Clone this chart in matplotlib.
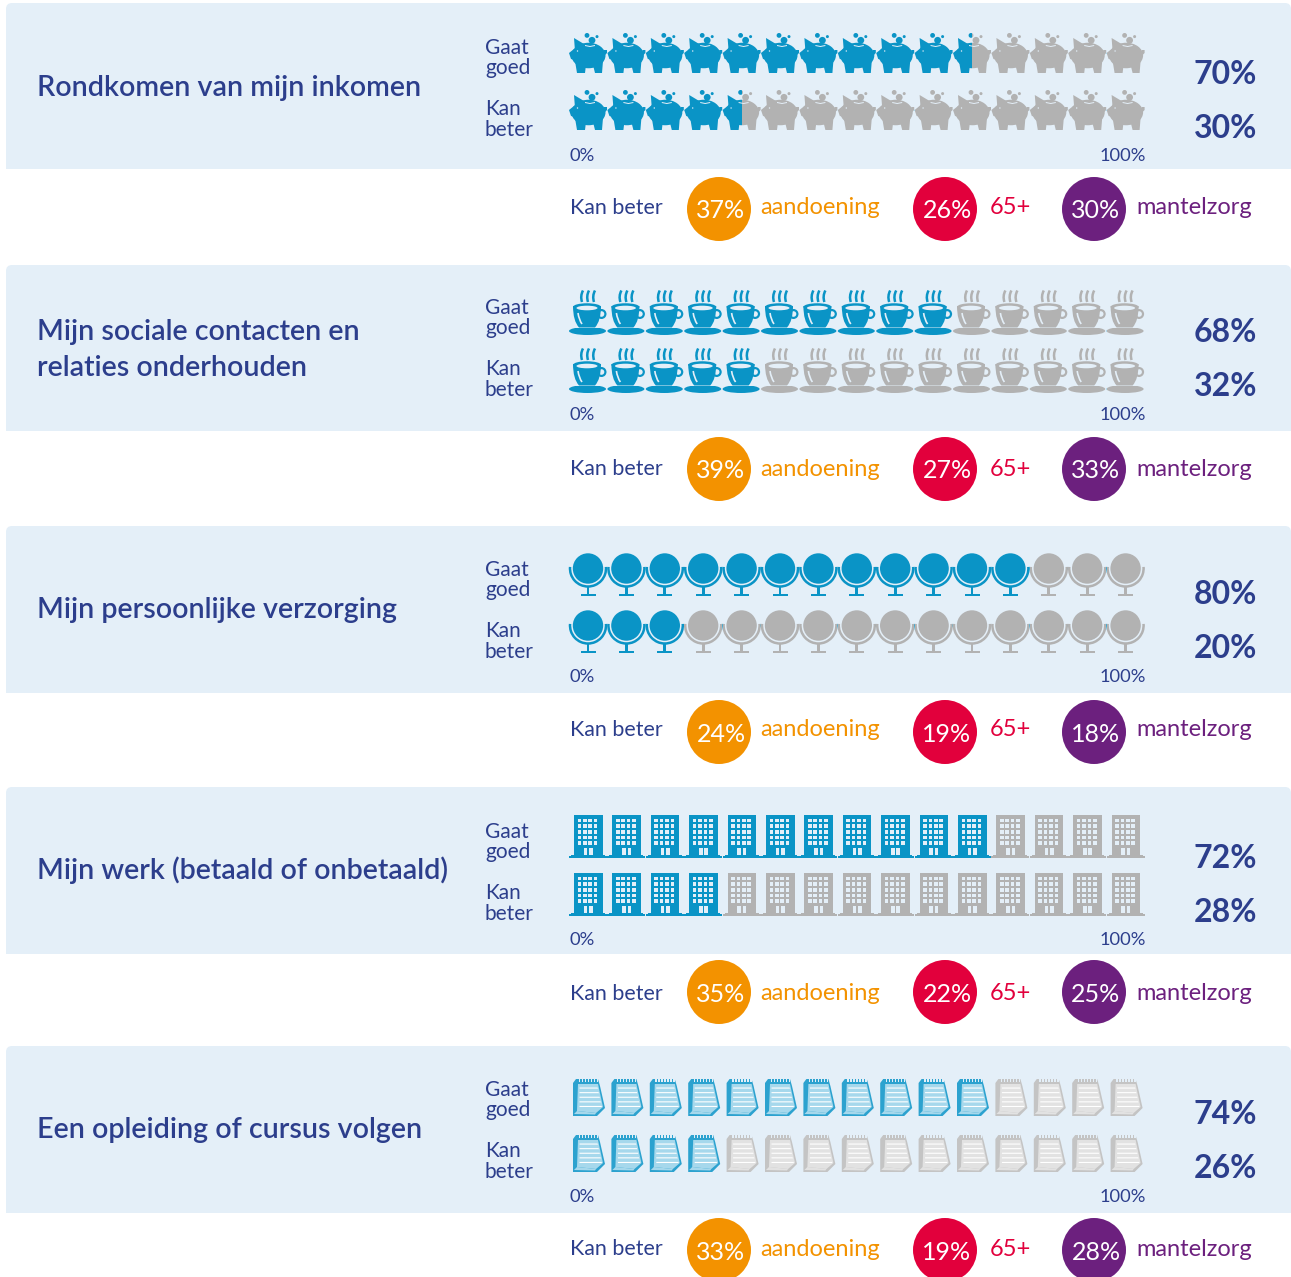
import matplotlib
matplotlib.use('Agg')
import matplotlib.pyplot as plt
import numpy as np
from matplotlib.patches import Circle, Ellipse, Polygon, Rectangle, FancyBboxPatch, Arc, PathPatch
from matplotlib.path import Path
from matplotlib.transforms import Affine2D

plt.rcParams['font.family'] = ['Lato', 'DejaVu Sans']

titles = [['Rondkomen van mijn inkomen'],
          ['Mijn sociale contacten en', 'relaties onderhouden'],
          ['Mijn persoonlijke verzorging'],
          ['Mijn werk (betaald of onbetaald)'],
          ['Een opleiding of cursus volgen']]
gaat_goed = [70, 68, 80, 72, 74]
kan_beter = [30, 32, 20, 28, 26]
gaat_icons = [10.5, 10, 12, 11, 11]
kan_icons = [4.5, 5, 3, 4, 4]
aandoening = [37, 39, 24, 35, 33]
age65 = [26, 27, 19, 22, 19]
mantelzorg = [30, 33, 18, 25, 28]
icon_names = ['pig', 'cup', 'globe', 'building', 'note']

BLUE = '#0A94C6'
GRAY = '#B2B2B2'
PANEL = '#E4EFF8'
NAVY = '#2C3E8C'
ORANGE = '#F39200'
RED = '#E2003C'
PURPLE = '#6C207E'

panel_tops = [3, 265, 526, 787, 1046]
panel_bottoms = [169, 431, 693, 954, 1213]
icon_rows = {'pig': (30, 87), 'cup': (25, 83), 'globe': (27, 84), 'building': (28, 86), 'note': (32, 88)}
pitch = 38.4
x_start = 569

# the panels in the picture are not spaced quite evenly
title_shift = [2, 2, 1, 0, 1]
label_shift = [1, -1, 0, 1, 0]
axis_shift = [2, -1, 0, 2, 0]
pct_shift = [3, 0, 1, 4, 1]
row_shift = [1, 0, 0, 3, -1]
circle_shift = [0, -2, 0, -1, -2]

fig = plt.figure(figsize=(12.91, 12.77), dpi=100)
ax = fig.add_axes([0, 0, 1, 1])
ax.set_xlim(0, 1291)
ax.set_ylim(1277, 0)
ax.axis('off')


def pig(c, light):
    parts = [Ellipse((19.5, 22.5), 34, 25.5, color=c, lw=0),
             Polygon([[5, 5], [15, 11], [6, 18]], color=c, lw=0),
             Polygon([[0, 20], [5, 16], [6, 27], [2, 26]], color=c, lw=0),
             Polygon([[6, 28], [17, 32], [16, 40], [8, 40]], color=c, lw=0),
             Polygon([[24, 32], [34, 28], [33, 40], [26, 40]], color=c, lw=0),
             Polygon([[35, 17], [38, 17], [38, 20], [35, 23]], color=c, lw=0),
             Circle((18, 2.4), 2.4, color=c, lw=0),
             Circle((23, 7.3), 3.4, color=c, lw=0),
             Circle((28, 3.6), 1.5, color=c, lw=0),
             Polygon([[16, 12], [21, 13], [26, 12], [26, 13], [21, 14], [16, 13]], color=light, lw=0),
             Circle((8.5, 18), 0.7, color=light, lw=0)]
    return parts


def cup(c, light):
    body = Path([(4, 16), (4, 31), (10, 37.5), (18, 37.5), (26, 37.5), (32, 31), (32, 16), (4, 16)],
                [Path.MOVETO, Path.CURVE3, Path.CURVE3, Path.CURVE3, Path.CURVE3, Path.CURVE3, Path.LINETO, Path.CLOSEPOLY])
    parts = [Ellipse((18.5, 41), 37, 8, color=c, lw=0),
             Rectangle((3, 36.6), 31, 0.9, color=light, lw=0),
             Circle((32.5, 24), 5, color=c, lw=0),
             Circle((32.5, 24), 2.8, color=light, lw=0),
             PathPatch(body, color=c, lw=0),
             Ellipse((18, 17), 28, 7.5, color=c, lw=0),
             Ellipse((18, 18), 21, 4.6, color=light, lw=0),
             PathPatch(Path([(9, 23), (10, 30), (13, 34)], [Path.MOVETO, Path.CURVE3, Path.CURVE3]),
                       fill=False, ec=light, lw=1.2)]
    for dx in [13, 19, 25]:
        parts.append(PathPatch(Path([(dx, 12), (dx - 2, 6), (dx + 1, 0.5)], [Path.MOVETO, Path.CURVE3, Path.CURVE3]),
                               fill=False, ec=c, lw=1.8))
    return parts


def globe(c, light):
    return [Circle((19, 15.5), 15.2, color=c, lw=0),
            Arc((19, 15.5), 36, 36, theta1=-5, theta2=185, ec=c, lw=1.8),
            Rectangle((17.6, 33), 2.8, 9, color=c, lw=0),
            Rectangle((11.5, 41), 15, 2.2, color=c, lw=0)]


def building(c, light):
    parts = [Rectangle((5, 0), 28.5, 40, color=c, lw=0),
             Rectangle((2, 39.5), 34, 2, color=c, lw=0),
             Rectangle((0, 41.2), 38, 1.8, color=c, lw=0)]
    for r in range(5):
        for k in range(4):
            parts.append(Rectangle((8.6 + k * 5.4, 3.5 + r * 5.7), 3.6, 3.6, color=light, lw=0))
    parts.append(Rectangle((14.8, 33), 3.6, 7, color=light, lw=0))
    parts.append(Rectangle((20.2, 33), 3.6, 7, color=light, lw=0))
    return parts


def note(c, light):
    page = '#A6D8EC' if c == BLUE else '#E2E2E2'
    side = '#2CA2CF' if c == BLUE else '#C4C4C4'
    parts = [Polygon([[4, 5], [7, 1], [29, 1], [31, 8], [36, 30], [28, 38], [4, 38]], color=side, lw=0),
             Polygon([[9, 6], [29, 6], [34, 29], [27, 35], [8, 33]], color=page, lw=0),
             Polygon([[5, 36], [8, 33], [27, 35], [26, 36.5]], color=page, lw=0)]
    for r in range(5):
        yy = 9.5 + r * 4.6
        parts.append(Polygon([[10.5, yy], [28.5 + r, yy], [29 + r, yy + 1.1], [10.5, yy + 1.1]], color='white', lw=0))
    for k in range(7):
        parts.append(Rectangle((9.5 + k * 3, 0), 1.5, 3.5, color=light, lw=0))
    return parts


icon_funcs = {'pig': pig, 'cup': cup, 'globe': globe, 'building': building, 'note': note}


def draw_icon(name, x0, y0, frac):
    tr = Affine2D().translate(x0, y0) + ax.transData
    for c, a, b in [(BLUE, -2, frac * pitch), (GRAY, frac * pitch, pitch + 2)]:
        if b <= a:
            continue
        clip = Rectangle((x0 + a, y0 - 3), b - a, 52, transform=ax.transData)
        for p in icon_funcs[name](c, PANEL):
            p.set_transform(tr)
            ax.add_patch(p)
            p.set_clip_path(clip)


for i, top in enumerate(panel_tops):
    bottom = panel_bottoms[i]
    ax.add_patch(FancyBboxPatch((8, top + 2), 1281, bottom - top + 8, boxstyle='round,pad=2,rounding_size=6',
                                fc=PANEL, ec='none', zorder=0))
    ax.add_patch(Rectangle((6, bottom), 1285, 14, fc='white', ec='none', zorder=0))

    # title
    ttl = titles[i]
    ts = title_shift[i]
    if len(ttl) == 1:
        ax.text(37, top + 83 + ts, ttl[0], color=NAVY, fontsize=20.6, fontweight='semibold', va='center', ha='left')
    else:
        ax.text(37, top + 65 + ts, ttl[0], color=NAVY, fontsize=20.6, fontweight='semibold', va='center', ha='left')
        ax.text(37, top + 101 + ts, ttl[1], color=NAVY, fontsize=20.6, fontweight='semibold', va='center', ha='left')

    for lab, dy in [('Gaat', 44), ('goed', 64), ('Kan', 105), ('beter', 126)]:
        ax.text(485, top + dy + label_shift[i], lab, color=NAVY, fontsize=15, va='center', ha='left')

    # icon rows
    name = icon_names[i]
    for y_rel, n_fill in zip(icon_rows[name], [gaat_icons[i], kan_icons[i]]):
        for k in range(15):
            draw_icon(name, x_start + k * pitch, top + y_rel, float(np.clip(n_fill - k, 0, 1)))

    ax.text(569, top + 151 + axis_shift[i], '0%', color=NAVY, fontsize=13.2, va='center', ha='left')
    ax.text(1146, top + 151 + axis_shift[i], '100%', color=NAVY, fontsize=13.2, va='center', ha='right')

    ax.text(1257, top + 68 + pct_shift[i], '%d%%' % gaat_goed[i], color=NAVY, fontsize=23, fontweight='bold', va='center', ha='right')
    ax.text(1257, top + 122 + pct_shift[i], '%d%%' % kan_beter[i], color=NAVY, fontsize=23, fontweight='bold', va='center', ha='right')

    # Kan beter row
    ax.text(570, top + 204 + row_shift[i], 'Kan beter', color=NAVY, fontsize=15.4, va='center', ha='left')
    groups = [(719, 760, ORANGE, aandoening[i], 'aandoening'),
              (945, 990, RED, age65[i], '65+'),
              (1094, 1136, PURPLE, mantelzorg[i], 'mantelzorg')]
    for cx, tx, col, val, lab in groups:
        cy = top + 206 + circle_shift[i]
        ax.add_patch(Circle((cx, cy), 32, fc=col, ec='none'))
        ax.text(cx + 2, cy + 2, '%d%%' % val, color='white', fontsize=18, va='center', ha='center')
        ax.text(tx, top + 204 + row_shift[i], lab, color=col, fontsize=17, va='center', ha='left')

fig.savefig('out.png', dpi=100, facecolor='white')
